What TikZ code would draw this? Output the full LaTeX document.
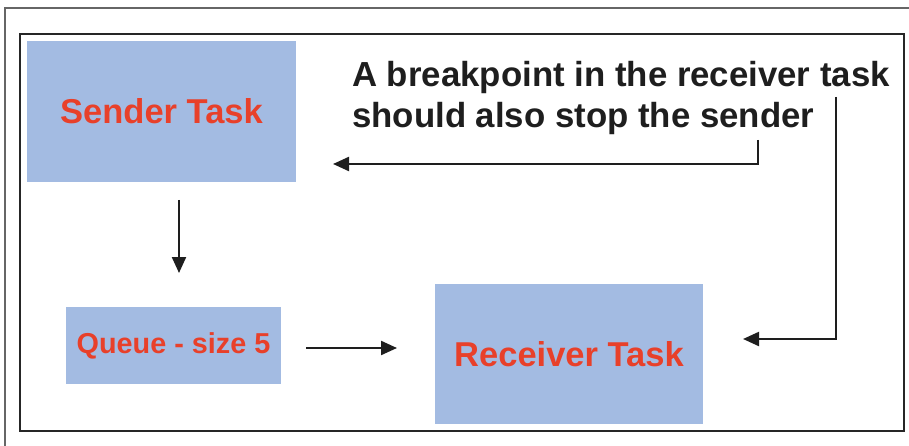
\documentclass[tikz,border=0pt]{standalone}
\usepackage{fontspec}
\setmainfont{Liberation Sans}
\usetikzlibrary{arrows.meta}
\definecolor{boxblue}{HTML}{A3BBE2}
\definecolor{taskred}{HTML}{E8402A}
\definecolor{inkdark}{HTML}{1E1E1E}
\tikzset{
  taskbox/.style={fill=boxblue, draw=none, inner sep=0pt, text=taskred,
    font=\fontsize{34.5}{40}\selectfont\bfseries},
  notetext/.style={inner sep=0pt, anchor=base west, text=inkdark,
    font=\fontsize{34.8}{40}\selectfont\bfseries},
  flow/.style={draw=inkdark, line width=2.2pt,
    -{Triangle[length=16pt,width=14pt]}},
}
\begin{document}
\begin{tikzpicture}[x=1pt,y=-1pt]
  \useasboundingbox (0,0) rectangle (909,446);
  % outer page edge
  \draw[gray!80!black, line width=1.5pt] (5,446) -- (5,8) -- (909,8);
  % inner frame
  \draw[black!85, line width=2pt] (20,34) rectangle (904,431);

  % task boxes
  \node[taskbox, minimum width=269pt, minimum height=141pt] (sender) at (161.5,111.5) {Sender Task};
  \node[taskbox, minimum width=215pt, minimum height=77pt,
        font=\fontsize{28.8}{34}\selectfont\bfseries] (queue) at (173.5,345.5) {Queue - size 5};
  \node[taskbox, minimum width=268pt, minimum height=140pt] (receiver) at (569,354) {Receiver Task};

  % annotation
  \node[notetext] (note1) at (352,87) {A breakpoint in the receiver task};
  \node[notetext] (note2) at (352,128) {should also stop the sender};

  % connector end points
  \coordinate (downA) at (179,200);
  \coordinate (downB) at (179,273);
  \coordinate (qA) at (306,348);
  \coordinate (qB) at (397,348);
  \coordinate (stopA) at (758,140);
  \coordinate (stopB) at (333,164);
  \coordinate (brkA) at (836,97);
  \coordinate (brkB) at (743,339);

  % connectors
  \draw[flow] (downA) -- (downB);
  \draw[flow] (qA) -- (qB);
  \draw[flow] (stopA) |- (stopB);
  \draw[flow] (brkA) |- (brkB);
\end{tikzpicture}
\end{document}
